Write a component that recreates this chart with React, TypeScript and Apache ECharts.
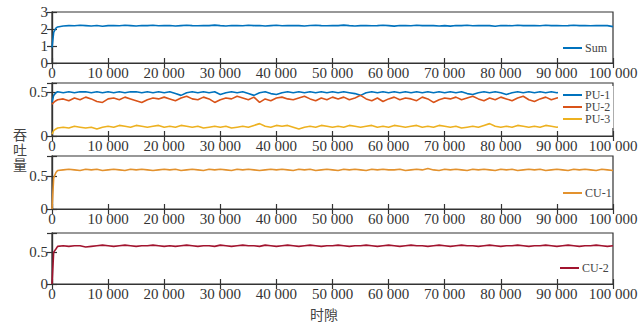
import React, { useEffect, useRef } from "react";
import * as echarts from "echarts";

// time slots (sampling grid)
const slots = [
  0, 300, 700,
  1000, 2000, 3000, 4000, 5000, 6000, 7000, 8000, 9000, 10000,
  11000, 12000, 13000, 14000, 15000, 16000, 17000, 18000, 19000, 20000,
  21000, 22000, 23000, 24000, 25000, 26000, 27000, 28000, 29000, 30000,
  31000, 32000, 33000, 34000, 35000, 36000, 37000, 38000, 39000, 40000,
  41000, 42000, 43000, 44000, 45000, 46000, 47000, 48000, 49000, 50000,
  51000, 52000, 53000, 54000, 55000, 56000, 57000, 58000, 59000, 60000,
  61000, 62000, 63000, 64000, 65000, 66000, 67000, 68000, 69000, 70000,
  71000, 72000, 73000, 74000, 75000, 76000, 77000, 78000, 79000, 80000,
  81000, 82000, 83000, 84000, 85000, 86000, 87000, 88000, 89000, 90000,
  91000, 92000, 93000, 94000, 95000, 96000, 97000, 98000, 99000, 100000,
];

const sumVals = [
  0.9, 1.8, 2.05,
  2.12, 2.18, 2.2, 2.19, 2.22, 2.2, 2.18, 2.21, 2.16, 2.2,
  2.21, 2.19, 2.22, 2.2, 2.18, 2.21, 2.2, 2.22, 2.19, 2.2,
  2.21, 2.18, 2.2, 2.22, 2.2, 2.19, 2.21, 2.2, 2.23, 2.2,
  2.18, 2.21, 2.2, 2.19, 2.22, 2.2, 2.21, 2.18, 2.2, 2.22,
  2.19, 2.2, 2.21, 2.2, 2.18, 2.21, 2.22, 2.2, 2.19, 2.21,
  2.2, 2.23, 2.2, 2.18, 2.2, 2.21, 2.19, 2.2, 2.22, 2.2,
  2.17, 2.21, 2.2, 2.19, 2.22, 2.2, 2.21, 2.2, 2.18, 2.2,
  2.17, 2.21, 2.2, 2.22, 2.19, 2.2, 2.21, 2.2, 2.16, 2.21,
  2.2, 2.19, 2.22, 2.2, 2.21, 2.2, 2.19, 2.22, 2.2, 2.21,
  2.19, 2.2, 2.22, 2.2, 2.21, 2.19, 2.2, 2.21, 2.2, 2.14,
];

const pu1Vals = [
  0.38, 0.46, 0.49,
  0.5, 0.49, 0.5, 0.49, 0.5, 0.5, 0.49, 0.5, 0.49, 0.5,
  0.49, 0.5, 0.49, 0.5, 0.5, 0.49, 0.5, 0.49, 0.5, 0.49,
  0.5, 0.48, 0.46, 0.49, 0.5, 0.49, 0.5, 0.49, 0.5, 0.47,
  0.49, 0.5, 0.49, 0.5, 0.48, 0.46, 0.49, 0.5, 0.48, 0.47,
  0.49, 0.5, 0.49, 0.5, 0.49, 0.5, 0.49, 0.5, 0.49, 0.5,
  0.49, 0.5, 0.49, 0.48, 0.46, 0.49, 0.5, 0.49, 0.5, 0.49,
  0.5, 0.49, 0.5, 0.49, 0.5, 0.49, 0.5, 0.49, 0.5, 0.49,
  0.5, 0.49, 0.5, 0.48, 0.47, 0.49, 0.5, 0.49, 0.5, 0.49,
  0.47, 0.49, 0.5, 0.49, 0.5, 0.49, 0.5, 0.49, 0.5, 0.49,
  0.5, 0.49, 0.5, 0.49, 0.5, 0.49, 0.5, 0.49, 0.5, 0.49,
];

const pu2Vals = [
  0.36, 0.38, 0.4,
  0.41, 0.42, 0.4, 0.43, 0.41, 0.44, 0.42, 0.39, 0.38, 0.42,
  0.43, 0.41, 0.44, 0.42, 0.4, 0.38, 0.41, 0.43, 0.42, 0.44,
  0.42, 0.4, 0.43, 0.45, 0.42, 0.41, 0.44, 0.42, 0.38, 0.41,
  0.43, 0.42, 0.45, 0.43, 0.41, 0.44, 0.38, 0.42, 0.4, 0.43,
  0.44, 0.42, 0.41, 0.43, 0.45, 0.42, 0.4, 0.43, 0.41, 0.44,
  0.42, 0.44, 0.41, 0.43, 0.46, 0.42, 0.4, 0.43, 0.39, 0.42,
  0.44, 0.41, 0.43, 0.42, 0.4, 0.44, 0.42, 0.38, 0.41, 0.43,
  0.42, 0.44, 0.41, 0.43, 0.45, 0.42, 0.4, 0.43, 0.41, 0.44,
  0.42, 0.4, 0.43, 0.45, 0.41, 0.39, 0.42, 0.44, 0.41, 0.43,
  0.44, 0.42, 0.41, 0.43, 0.42, 0.44, 0.41, 0.43, 0.42, 0.43,
];

const pu3Vals = [
  0.02, 0.06, 0.08,
  0.09, 0.1, 0.09, 0.11, 0.1, 0.09, 0.1, 0.08, 0.1, 0.11,
  0.1, 0.12, 0.11, 0.1, 0.12, 0.11, 0.1, 0.11, 0.12, 0.1,
  0.11, 0.1, 0.12, 0.11, 0.1, 0.11, 0.09, 0.1, 0.11, 0.1,
  0.11, 0.09, 0.1, 0.11, 0.1, 0.12, 0.14, 0.11, 0.1, 0.12,
  0.11, 0.12, 0.1, 0.08, 0.1, 0.11, 0.1, 0.12, 0.11, 0.1,
  0.11, 0.1, 0.12, 0.11, 0.1, 0.11, 0.12, 0.1, 0.11, 0.1,
  0.12, 0.11, 0.1, 0.11, 0.12, 0.1, 0.11, 0.1, 0.12, 0.11,
  0.1, 0.11, 0.09, 0.1, 0.11, 0.1, 0.12, 0.14, 0.11, 0.1,
  0.11, 0.1, 0.12, 0.11, 0.1, 0.11, 0.1, 0.12, 0.11, 0.1,
  0.11, 0.1, 0.12, 0.11, 0.1, 0.11, 0.12, 0.1, 0.11, 0.13,
];

const cu1Vals = [
  0.0, 0.47, 0.55,
  0.58, 0.59, 0.6, 0.59, 0.58, 0.6, 0.59, 0.6, 0.58, 0.59,
  0.6, 0.59, 0.58, 0.6, 0.59, 0.6, 0.59, 0.58, 0.59, 0.6,
  0.59, 0.6, 0.58, 0.59, 0.6, 0.59, 0.58, 0.6, 0.59, 0.6,
  0.59, 0.58, 0.6, 0.59, 0.6, 0.59, 0.58, 0.59, 0.6, 0.59,
  0.6, 0.59, 0.58, 0.6, 0.59, 0.6, 0.58, 0.59, 0.6, 0.59,
  0.58, 0.6, 0.59, 0.6, 0.59, 0.58, 0.6, 0.59, 0.6, 0.59,
  0.59, 0.6, 0.58, 0.59, 0.6, 0.59, 0.61, 0.59, 0.58, 0.6,
  0.59, 0.6, 0.59, 0.58, 0.6, 0.59, 0.6, 0.59, 0.58, 0.6,
  0.59, 0.6, 0.58, 0.59, 0.6, 0.59, 0.6, 0.58, 0.59, 0.6,
  0.59, 0.58, 0.6, 0.59, 0.6, 0.59, 0.58, 0.6, 0.59, 0.58,
];

const cu2Vals = [
  0.0, 0.5, 0.55,
  0.59, 0.6, 0.59, 0.6, 0.6, 0.58, 0.59, 0.6, 0.61, 0.6,
  0.59, 0.6, 0.61, 0.6, 0.59, 0.6, 0.6, 0.61, 0.6, 0.59,
  0.6, 0.59, 0.6, 0.61, 0.6, 0.59, 0.6, 0.6, 0.59, 0.61,
  0.6, 0.59, 0.6, 0.61, 0.6, 0.6, 0.59, 0.61, 0.6, 0.59,
  0.6, 0.61, 0.6, 0.59, 0.6, 0.61, 0.6, 0.59, 0.6, 0.6,
  0.61, 0.6, 0.59, 0.6, 0.6, 0.61, 0.6, 0.59, 0.6, 0.61,
  0.6, 0.59, 0.6, 0.61, 0.6, 0.6, 0.59, 0.6, 0.61, 0.6,
  0.59, 0.6, 0.61, 0.6, 0.6, 0.59, 0.6, 0.61, 0.6, 0.59,
  0.6, 0.6, 0.61, 0.6, 0.59, 0.6, 0.6, 0.61, 0.6, 0.59,
  0.6, 0.61, 0.6, 0.59, 0.6, 0.6, 0.61, 0.6, 0.59, 0.6,
];

const yLabelChars = ["吞", "吐", "量"];
const xLabelText = "时隙";

const AX = "#333333";
const SERIF = '"Liberation Serif", "Times New Roman", serif';

const panels = [
  { top: 12, height: 51, max: 3, interval: 1, labels: [0, 1, 2, 3] },
  { top: 83, height: 53, max: 0.6, interval: 0.5, labels: [0, 0.5] },
  { top: 156, height: 53, max: 0.8, interval: 0.5, labels: [0, 0.5] },
  { top: 233, height: 51, max: 0.8, interval: 0.5, labels: [0, 0.5] },
];

const seriesDefs = [
  { name: "Sum", vals: sumVals, panel: 0, color: "#0072BD" },
  { name: "PU-1", vals: pu1Vals, panel: 1, color: "#0072BD" },
  { name: "PU-2", vals: pu2Vals, panel: 1, color: "#D95319" },
  { name: "PU-3", vals: pu3Vals, panel: 1, color: "#EDB120" },
  { name: "CU-1", vals: cu1Vals, panel: 2, color: "#E3922E" },
  { name: "CU-2", vals: cu2Vals, panel: 3, color: "#A2142F" },
];

const fmtThousands = (v: number) =>
  String(v).replace(/\B(?=(\d{3})+(?!\d))/g, " ");

export default function App() {
  const ref = useRef<HTMLDivElement>(null);
  useEffect(() => {
    if (!ref.current) return;
    const chart = echarts.init(ref.current, undefined, { renderer: "svg" });

    const grid = panels.map((p) => ({
      left: 52,
      right: 29,
      top: p.top,
      height: p.height,
      show: true,
      borderColor: AX,
      borderWidth: 1.2,
      backgroundColor: "transparent",
    }));

    const xAxis: any[] = [];
    const yAxis: any[] = [];
    panels.forEach((p, i) => {
      const xBase = {
        gridIndex: i,
        type: "value",
        min: 0,
        max: 100000,
        interval: 10000,
        splitLine: { show: false },
        axisLine: { show: true, lineStyle: { color: AX, width: 1.2 } },
        axisTick: { show: true, inside: true, length: 5, lineStyle: { color: AX, width: 1.2 } },
      };
      xAxis.push({
        ...xBase,
        position: "bottom",
        axisLabel: {
          margin: 2,
          color: "#333",
          fontFamily: SERIF,
          fontSize: 15,
          formatter: (v: number) => fmtThousands(v),
        },
      });
      xAxis.push({ ...xBase, position: "top", axisLabel: { show: false } });
      const yBase = {
        gridIndex: i,
        type: "value",
        min: 0,
        max: p.max,
        interval: p.interval,
        splitLine: { show: false },
        axisLine: { show: true, lineStyle: { color: AX, width: 1.2 } },
        axisTick: { show: true, inside: true, length: 5, lineStyle: { color: AX, width: 1.2 } },
      };
      yAxis.push({
        ...yBase,
        position: "left",
        axisLabel: {
          margin: 4,
          color: "#333",
          fontFamily: SERIF,
          fontSize: 15,
          formatter: (v: number) => (p.labels.some((l) => Math.abs(l - v) < 1e-9) ? String(v) : ""),
        },
      });
      yAxis.push({ ...yBase, position: "right", axisLabel: { show: false } });
    });

    const series = seriesDefs.map((s) => ({
      name: s.name,
      type: "line",
      xAxisIndex: s.panel * 2,
      yAxisIndex: s.panel * 2,
      data: slots.map((t, i) => [t, s.vals[i]]),
      showSymbol: false,
      symbol: "none",
      lineStyle: { color: s.color, width: 1.6 },
      itemStyle: { color: s.color },
      z: 2,
    }));

    const legendCommon = {
      orient: "vertical",
      icon: "rect",
      itemWidth: 19,
      itemHeight: 2,
      itemGap: 0,
      textStyle: { fontFamily: SERIF, fontSize: 12, color: "#444", lineHeight: 12, padding: [0, 0, 0, -2] },
      selectedMode: false,
    };

    const legend = [
      { ...legendCommon, data: ["Sum"], left: 563, top: 42, padding: 0 },
      {
        ...legendCommon,
        data: ["PU-1", "PU-2", "PU-3"],
        left: 558,
        top: 86,
        padding: [3, 3, 3, 5],
        backgroundColor: "#ffffff",
      },
      { ...legendCommon, data: ["CU-1"], left: 563, top: 187, padding: 0 },
      { ...legendCommon, data: ["CU-2"], left: 560, top: 262, padding: 0 },
    ];

    const yTitle = yLabelChars.map((ch, i) => ({
      type: "text",
      left: 13,
      top: 127 + i * 15,
      style: {
        text: ch,
        font: '14px "Noto Sans CJK SC"',
        fill: "#444",
      },
    }));

    chart.setOption({
      animation: false,
      backgroundColor: "#ffffff",
      grid,
      xAxis,
      yAxis,
      series,
      legend,
      graphic: [
        ...yTitle,
        {
          type: "text",
          left: 310,
          top: 307,
          style: {
            text: xLabelText,
            font: '14px "Noto Sans CJK SC"',
            fill: "#444",
          },
        },
      ],
    });
    return () => chart.dispose();
  }, []);
  return (
    <div
      ref={ref}
      style={{ width: 642, height: 326, position: "absolute", left: 0, top: 0 }}
    />
  );
}
